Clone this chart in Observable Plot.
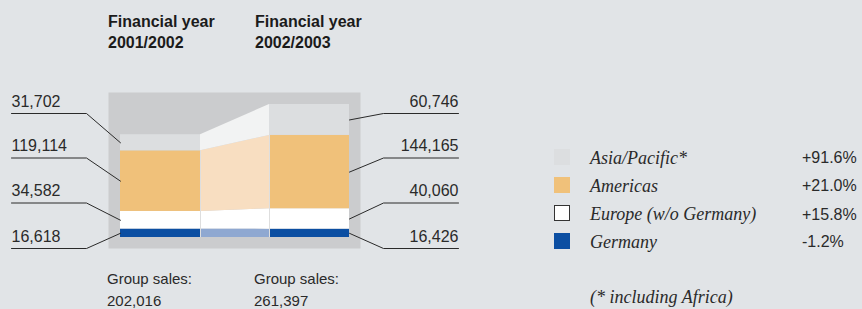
<!DOCTYPE html>
<html><head><meta charset="utf-8">
<script src="https://cdn.jsdelivr.net/npm/d3@7"></script>
<script src="https://cdn.jsdelivr.net/npm/@observablehq/plot@0.6"></script>
<style>
html,body{margin:0;padding:0;background:#e1e4e7;}
#wrap{position:relative;width:862px;height:309px;overflow:hidden;background:#e1e4e7;font-family:"Liberation Sans",Arial,sans-serif;color:#2a2a2a;}
#wrap svg{position:absolute;left:0;top:0;}
.abs{position:absolute;white-space:nowrap;}
.title{font-weight:bold;font-size:16px;line-height:21.6px;color:#1b1b1b;}
.gs{font-size:15px;line-height:22px;}
.leg{font-family:"Liberation Serif","Times New Roman",serif;font-style:italic;font-size:18px;line-height:20px;}
.pct{font-size:16px;line-height:20px;}
.sw{position:absolute;width:16px;height:16px;box-sizing:border-box;}
</style></head><body><div id="wrap"></div>
<script>
// ---- data ----
const years = ["2001/2002", "2002/2003"];
const titlePrefix = "Financial year";
const regions = ["Germany", "Europe (w/o Germany)", "Americas", "Asia/Pacific*"]; // bottom to top
const sales2001 = [16618, 34582, 119114, 31702];
const sales2002 = [16426, 40060, 144165, 60746];
const groupSales = [202016, 261397];
const changes = ["-1.2%", "+15.8%", "+21.0%", "+91.6%"];
const footnote = "(* including Africa)";

// ---- styles ----
const colors = ["#0b4ea2", "#ffffff", "#f0c17a", "#dcdee0"];
const fadedColors = ["#8fa8d1", "#ffffff", "#f8dec1", "#f2f3f3"];
const panelColor = "#cbccce";
const ink = "#2a2a2a";

// ---- layout ----
const W = 862, H = 309;
const X0 = 120, BAR = 80, STEP = 149 / 80;   // bar1 left px, bar width px, bar2 offset (units)
const Y0 = 237, TOP = 104;                    // baseline px, top of tallest bar px
const K = (Y0 - TOP) / d3.max(groupSales);
const ux = px => (px - X0) / BAR;
const vy = px => (Y0 - px) / K;
const slots = [248, 202.5, 157.5, 113];

const series = [sales2001, sales2002];
const segs = years.flatMap((yr, i) => {
  let c = 0;
  return regions.map((r, j) => {
    const v = series[i][j];
    const o = {year: yr, i, j, region: r, value: v, y1: c, y2: c + v, mid: c + v / 2,
      x1: i * STEP, x2: i * STEP + 1, fill: colors[j]};
    c += v;
    return o;
  });
});
const seg = (i, j) => segs[i * regions.length + j];

const conn = regions.flatMap((r, j) => [
  {region: r, x: 1, y1: seg(0, j).y1, y2: seg(0, j).y2, fill: fadedColors[j]},
  {region: r, x: STEP, y1: seg(1, j).y1, y2: seg(1, j).y2, fill: fadedColors[j]}
]);

const leaders = regions.flatMap((r, j) => [
  {k: "L" + j, x: ux(11), y: vy(slots[j])},
  {k: "L" + j, x: ux(86), y: vy(slots[j])},
  {k: "L" + j, x: 0, y: seg(0, j).mid},
  {k: "R" + j, x: STEP + 1, y: seg(1, j).mid},
  {k: "R" + j, x: ux(383), y: vy(slots[j])},
  {k: "R" + j, x: ux(458), y: vy(slots[j])}
]);
const fmt = d3.format(",");
const leftLabels = regions.map((r, j) => ({x: ux(11), y: vy(slots[j]), t: fmt(sales2001[j])}));
const rightLabels = regions.map((r, j) => ({x: ux(458), y: vy(slots[j]), t: fmt(sales2002[j])}));

const padX = 11.5 / BAR, padY = 11.5 / K;
const panel = [{x1: -padX, x2: STEP + 1 + padX, y1: -padY, y2: d3.max(groupSales) + padY}];
const seps = [
  {x: 1, y2: seg(0, 2).y2},
  {x: STEP, y2: seg(1, 2).y2}
];

const chart = Plot.plot({
  width: W, height: H,
  margin: 0,
  x: {domain: [ux(0), ux(W)], range: [0, W], axis: null},
  y: {domain: [vy(H), vy(0)], range: [H, 0], axis: null},
  color: {type: "identity"},
  style: {background: "transparent", fontFamily: "Liberation Sans, Arial, sans-serif"},
  marks: [
    Plot.rect(panel, {x1: "x1", x2: "x2", y1: "y1", y2: "y2", fill: panelColor}),
    Plot.area(conn, {x1: "x", y1: "y1", y2: "y2", z: "region", fill: "fill", curve: "linear"}),
    Plot.rect(segs, {x1: "x1", x2: "x2", y1: "y1", y2: "y2", fill: "fill"}),
    Plot.ruleX(seps, {x: "x", y1: 0, y2: "y2", stroke: "#dedede", strokeWidth: 1}),
    Plot.line(leaders, {x: "x", y: "y", z: "k", stroke: ink, strokeWidth: 1, curve: "linear"}),
    Plot.text(leftLabels, {x: "x", y: "y", text: "t", textAnchor: "start", dy: -12, fontSize: 16, fill: ink}),
    Plot.text(rightLabels, {x: "x", y: "y", text: "t", textAnchor: "end", dy: -12, fontSize: 16, fill: ink})
  ]
});

const wrap = document.getElementById("wrap");
wrap.appendChild(chart);

function addDiv(cls, left, top, html) {
  const d = document.createElement("div");
  d.className = "abs " + cls;
  d.style.left = left + "px";
  d.style.top = top + "px";
  d.innerHTML = html;
  wrap.appendChild(d);
  return d;
}
const colLeft = [108, 255];
years.forEach((yr, i) => {
  addDiv("title", colLeft[i], 10.5, titlePrefix + "<br>" + yr);
  addDiv("gs", colLeft[i] - 1, 268, "Group sales:<br>" + fmt(groupSales[i]));
});

// legend (top to bottom = Asia first)
const legTops = [147.7, 175.7, 204, 231.5];
regions.slice().reverse().forEach((r, k) => {
  const j = regions.length - 1 - k;
  const sw = document.createElement("div");
  sw.className = "sw";
  sw.style.left = "554px";
  sw.style.top = (legTops[k] + 1.3) + "px";
  sw.style.background = colors[j];
  if (j === 1) sw.style.border = "1px solid #333";
  wrap.appendChild(sw);
  addDiv("leg", 590, legTops[k], r);
  addDiv("pct", 802, legTops[k] + 0.5, changes[j]);
});
addDiv("leg", 590, 286.5, footnote);
</script></body></html>
